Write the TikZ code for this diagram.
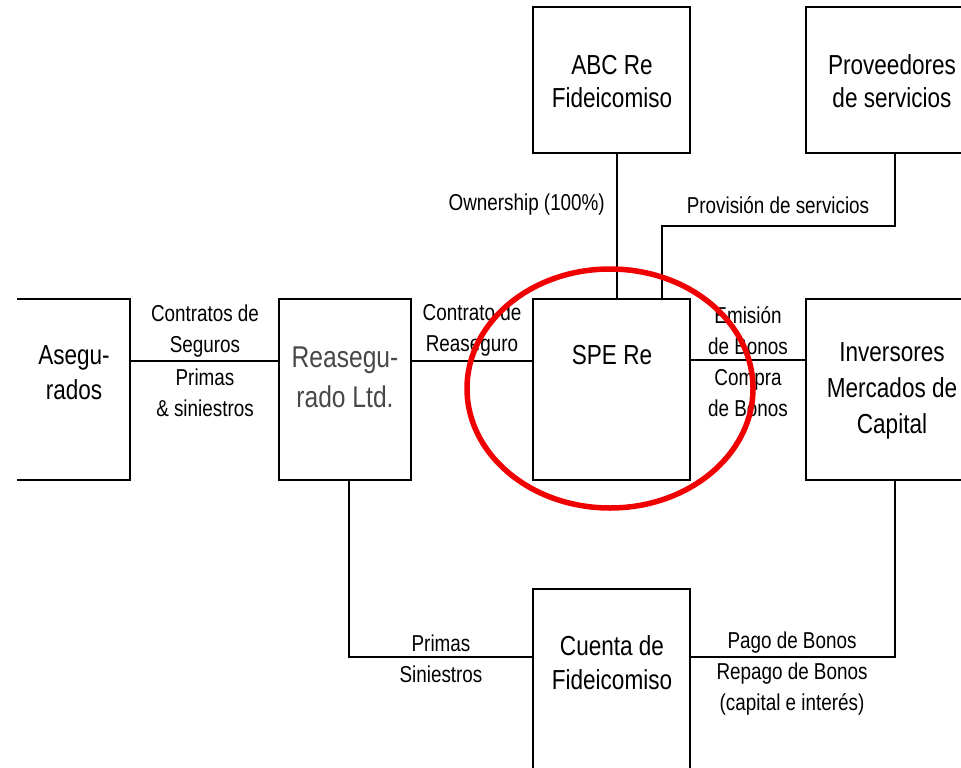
\documentclass[tikz,border=0pt]{standalone}
\usepackage{fontspec}
\setmainfont{Liberation Sans}[FakeStretch=0.82]
\definecolor{reasgray}{RGB}{72,72,72}
\definecolor{ringred}{RGB}{240,0,0}
\begin{document}
\begin{tikzpicture}[x=1pt,y=-1pt,
  boxline/.style={line width=2.4pt, line join=miter},
  box/.style={draw, boxline, inner sep=0pt, outer sep=0pt},
  hollow/.style={draw=none, inner sep=0pt, outer sep=0pt},
  link/.style={line width=2pt},
  boxtext/.style={align=center, inner sep=0pt, font=\fontsize{27.5}{35}\selectfont},
  lbl/.style={align=center, inner sep=0pt, font=\fontsize{23}{31}\selectfont},
  ring/.style={draw=ringred, line width=5.5pt}]
\useasboundingbox (0,0) rectangle (961,768);

% boxes
\node[hollow, minimum width=113pt, minimum height=181pt] (aseg) at (73.5,389.5) {};
\draw[boxline] (aseg.north west) -- (aseg.north east) -- (aseg.south east) -- (aseg.south west);
\node[box, minimum width=132pt, minimum height=181pt] (reas) at (345,389.5) {};
\node[box, minimum width=157pt, minimum height=181pt] (spe) at (611.5,389.5) {};
\node[hollow, minimum width=155pt, minimum height=181pt] (inv) at (883.5,389.5) {};
\draw[boxline] (inv.north east) -- (inv.north west) -- (inv.south west) -- (inv.south east);
\node[box, minimum width=157pt, minimum height=146pt] (abc) at (611.5,80) {};
\node[hollow, minimum width=155pt, minimum height=146pt] (prov) at (883.5,80) {};
\draw[boxline] (prov.north east) -- (prov.north west) -- (prov.south west) -- (prov.south east);
\node[hollow, minimum width=157pt, minimum height=179pt] (cta) at (611.5,678.5) {};
\draw[boxline] (cta.south west) -- (cta.north west) -- (cta.north east) -- (cta.south east);

% box texts
\node[boxtext] (aseg-t) at (74,373) {Asegu-\\rados};
\node[boxtext, text=reasgray, font=\fontsize{30}{40}\selectfont] (reas-t) at (345,377) {Reasegu-\\rado Ltd.};
\node[boxtext] (spe-t) at (612,355) {SPE Re};
\node[boxtext, font=\fontsize{27.5}{36}\selectfont] (inv-t) at (892,391) {Inversores\\Mercados de\\Capital};
\node[boxtext, font=\fontsize{27.5}{33}\selectfont] (abc-t) at (612,81.5) {ABC Re\\Fideicomiso};
\node[boxtext, font=\fontsize{27.5}{33}\selectfont] (prov-t) at (892,81.5) {Proveedores\\de servicios};
\node[boxtext, font=\fontsize{27.5}{34}\selectfont] (cta-t) at (612,663) {Cuenta de\\Fideicomiso};

% helper coordinates
\coordinate (yA) at (0,361);
\coordinate (yB) at (0,360);
\coordinate (xOwn) at (617,0);
\coordinate (xProvR) at (895,0);
\coordinate (xProvL) at (662,0);
\coordinate (yProv) at (0,226);
\coordinate (xReas) at (349,0);
\coordinate (yBot) at (0,657);
\coordinate (xInv) at (895,0);

% connectors
\draw[link] (aseg.east |- yA) -- (reas.west |- yA);
\draw[link] (reas.east |- yA) -- (spe.west |- yA);
\draw[link] (spe.east |- yB) -- (inv.west |- yB);
\draw[link] (abc.south -| xOwn) -- (spe.north -| xOwn);
\draw[link] (prov.south -| xProvR) -- (xProvR |- yProv) -- (xProvL |- yProv) -- (spe.north -| xProvL);
\draw[link] (reas.south -| xReas) -- (xReas |- yBot) -- (cta.west |- yBot);
\draw[link] (cta.east |- yBot) -- (xInv |- yBot) -- (inv.south -| xInv);

% connector labels
\node[lbl] (l1) at (205,331.5) {Contratos de\\Seguros};
\node[lbl] (l2) at (205,393) {Primas\\\& siniestros};
\node[lbl] (l3) at (472,330) {Contrato de\\Reaseguro};
\node[lbl] (l4) at (748,331) {Emisión\\de Bonos};
\node[lbl] (l5) at (748,393) {Compra\\de Bonos};
\node[lbl, anchor=east] (l6) at (605,205) {Ownership (100\%)};
\node[lbl] (l7) at (778,205) {Provisión de servicios};
\node[lbl] (l8) at (441,658.5) {Primas\\Siniestros};
\node[lbl] (l9) at (792,674) {Pago de Bonos\\Repago de Bonos\\(capital e interés)};

% red ring
\draw[ring] (610,388.5) ellipse [x radius=143pt, y radius=119.5pt];
\end{tikzpicture}
\end{document}
